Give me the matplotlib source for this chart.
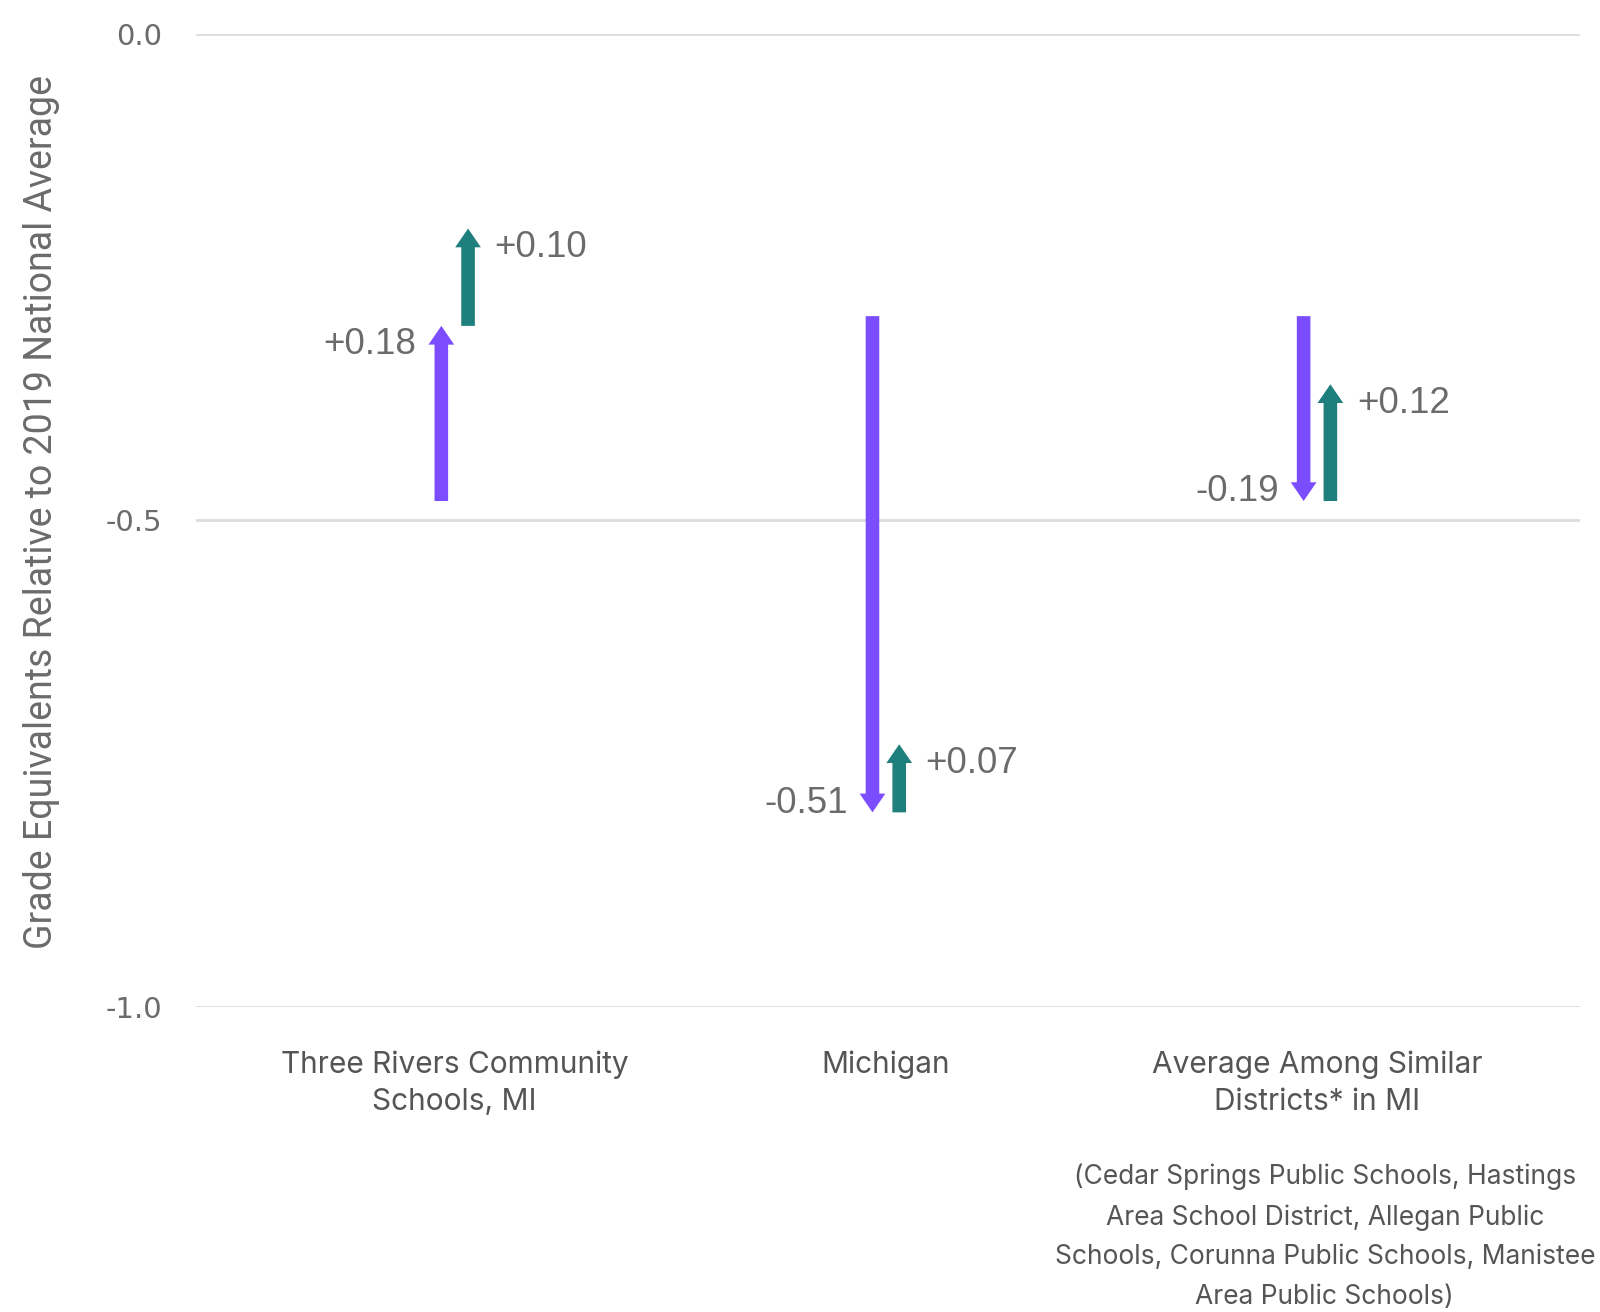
import matplotlib
matplotlib.use("Agg")
import matplotlib.pyplot as plt

categories = ["Three Rivers Community\nSchools, MI", "Michigan", "Average Among Similar\nDistricts* in MI"]
start_2019 = [-0.48, -0.29, -0.29]
change_1 = [0.18, -0.51, -0.19]
change_2 = [0.10, 0.07, 0.12]
change_1_labels = ["+0.18", "-0.51", "-0.19"]
change_2_labels = ["+0.10", "+0.07", "+0.12"]
yticks = [0.0, -0.5, -1.0]
ytick_labels = ["0.0", "-0.5", "-1.0"]
ylabel = "Grade Equivalents Relative to 2019 National Average"
footnote = ("(Cedar Springs Public Schools, Hastings\nArea School District, Allegan Public\n"
            "Schools, Corunna Public Schools, Manistee\nArea Public Schools)")

PURPLE = "#7b4dff"
TEAL = "#1e7f7c"
GRAY = "#6b6b6b"

fig = plt.figure(figsize=(16, 13.12), dpi=100)
ax = fig.add_axes([0.1225, 0.2325, 0.865, 0.7416])
ax.set_xlim(-0.6, 2.61)
ax.set_ylim(-1.0, 0.0)
for s in ax.spines.values():
    s.set_visible(False)
ax.set_yticks(yticks)
ax.set_yticklabels(ytick_labels, fontsize=21, color=GRAY, family="DejaVu Sans")
ax.tick_params(axis="y", length=0, pad=24.5)
ax.grid(axis="y", color="#dddddd", lw=2)
ax.set_axisbelow(True)
ax.set_xticks(range(len(categories)))
ax.set_xticklabels(categories, fontsize=21.5, color="#555555", family=["Inter", "DejaVu Sans"], linespacing=1.42)
ax.tick_params(axis="x", length=0, pad=31)
ax.set_ylabel(ylabel, fontsize=27, color=GRAY, family=["Roboto", "DejaVu Sans"])
ax.yaxis.set_label_coords(-0.098, 0.509)

style = "simple,head_width=18.5,head_length=13.5,tail_width=9.8"
off = 0.031
for i in range(len(categories)):
    y0 = start_2019[i]
    y1 = y0 + change_1[i]
    y2 = y1 + change_2[i]
    xp = i - off
    xt = i + off
    ax.annotate("", xy=(xp, y1), xytext=(xp, y0),
                arrowprops=dict(arrowstyle=style, color=PURPLE, shrinkA=0, shrinkB=0, mutation_scale=1, lw=0))
    ax.annotate("", xy=(xt, y2), xytext=(xt, y1),
                arrowprops=dict(arrowstyle=style, color=TEAL, shrinkA=0, shrinkB=0, mutation_scale=1, lw=0))
    dy1 = -13.5 if change_1[i] > 0 else 6.5
    dy2 = -13.5 if change_2[i] > 0 else 6.5
    ax.annotate(change_1_labels[i], xy=(xp, y1), xytext=(-18, dy1), textcoords="offset points",
                ha="right", va="center", fontsize=26.5, color=GRAY, family=["Liberation Sans", "DejaVu Sans"])
    ax.annotate(change_2_labels[i], xy=(xt, y2), xytext=(19, dy2), textcoords="offset points",
                ha="left", va="center", fontsize=26.5, color=GRAY, family=["Liberation Sans", "DejaVu Sans"])

fig.text(0.828, 0.113, footnote, ha="center", va="top", fontsize=19,
         color="#555555", family=["Inter", "DejaVu Sans"], linespacing=1.68)

fig.savefig("out.png", dpi=100, facecolor="white")
